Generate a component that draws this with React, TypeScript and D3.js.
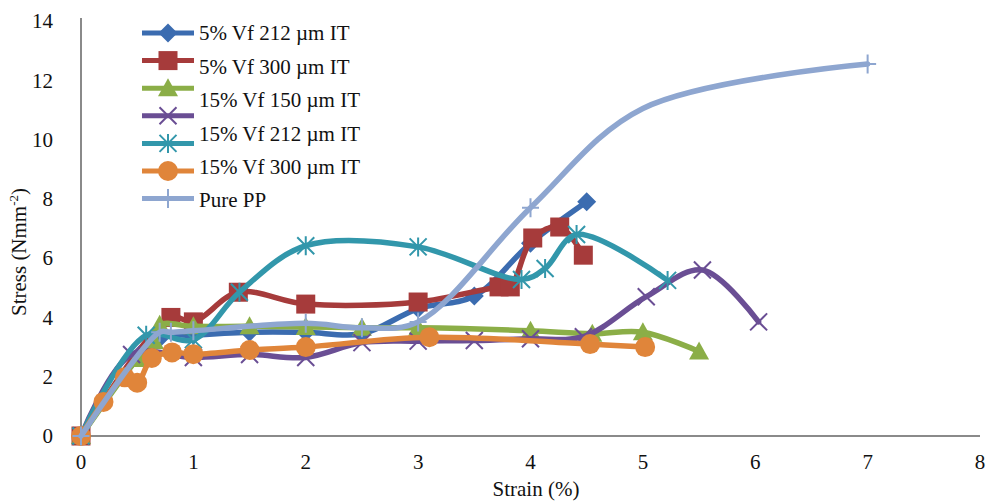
import React from 'react';
import * as d3 from 'd3';

// strain (%) / stress (N/mm2) pairs
const vf5_212 = [[0, 0], [0.7, 3.3], [1, 3.4], [1.5, 3.5], [2, 3.5], [2.5, 3.45], [3, 4.3], [3.5, 4.72], [4, 6.5], [4.5, 7.9]];
const vf5_300 = [[0, 0], [0.8, 4.0], [1, 3.85], [1.4, 4.85], [2, 4.45], [3, 4.52], [3.72, 5.03], [3.82, 5.03], [4.02, 6.68], [4.26, 7.05], [4.47, 6.1]];
const vf15_150 = [[0, 0], [0.5, 2.6], [0.65, 3.2], [0.7, 3.75], [1, 3.7], [1.5, 3.7], [2, 3.68], [2.5, 3.65], [3, 3.65], [4, 3.55], [4.55, 3.45], [5, 3.5], [5.5, 2.85]];
const vf15_150b = [[0, 0], [0.45, 2.75], [1, 2.65], [1.5, 2.75], [2, 2.65], [2.5, 3.15], [3, 3.2], [3.5, 3.22], [4, 3.28], [4.47, 3.35], [5.03, 4.7], [5.53, 5.6], [6.03, 3.85]];
const vf15_212 = [[0, 0], [0.58, 3.4], [1, 3.25], [1.41, 4.85], [2, 6.42], [3, 6.38], [3.92, 5.28], [4.13, 5.65], [4.41, 6.8], [5.22, 5.25]];
const vf15_300 = [[0, 0], [0.2, 1.15], [0.39, 1.98], [0.5, 1.8], [0.63, 2.63], [0.81, 2.82], [1, 2.76], [1.5, 2.9], [2, 3.0], [3.1, 3.33], [4.53, 3.1], [5.02, 3.0]];
const purePP = [[0, 0], [0.7, 3.5], [0.8, 3.5], [1, 3.55], [2, 3.8], [2.5, 3.65], [3, 3.85], [4, 7.7], [5, 11.05], [7, 12.55]];
// strains on the Pure PP curve where no marker is visible
const purePPNoMarker = [5];

const seriesColors = ['#3b6cb0', '#a63b3b', '#8bae47', '#6a4e94', '#3297ab', '#e0853a', '#8ea6d0'];
const seriesMarkers = ['diamond', 'square', 'triangle', 'x', 'asterisk', 'circle', 'plus'];
const seriesData = [vf5_212, vf5_300, vf15_150, vf15_150b, vf15_212, vf15_300, purePP];
const seriesNoMarker = [[], [], [], [], [], [], purePPNoMarker];

const legendLabels = ['5% Vf 212 µm IT', '5% Vf 300 µm IT', '15% Vf 150 µm IT', '15% Vf 212 µm IT', '15% Vf 300 µm IT', 'Pure PP'];

const xTicks = [0, 1, 2, 3, 4, 5, 6, 7, 8];
const yTicks = [0, 2, 4, 6, 8, 10, 12, 14];

const W = 986;
const H = 501;
const margin = { top: 21, right: 6, bottom: 65, left: 81 };
const FONT = '"Liberation Serif", "Times New Roman", serif';

const x = d3.scaleLinear().domain([0, 8]).range([margin.left, W - margin.right]);
const y = d3.scaleLinear().domain([0, 14]).range([H - margin.bottom, margin.top]);

const line = d3.line<number[]>()
  .x((d) => x(d[0]))
  .y((d) => y(d[1]))
  .curve(d3.curveCatmullRom.alpha(0.5));

function Marker({ kind, cx, cy, color }: { kind: string; cx: number; cy: number; color: string }) {
  if (kind === 'diamond') {
    const r = 9.5;
    return <path d={`M${cx},${cy - r}L${cx + r},${cy}L${cx},${cy + r}L${cx - r},${cy}Z`} fill={color} />;
  }
  if (kind === 'square') return <rect x={cx - 9.5} y={cy - 9.5} width={19} height={19} fill={color} />;
  if (kind === 'circle') return <circle cx={cx} cy={cy} r={10} fill={color} />;
  if (kind === 'triangle') {
    return <path d={`M${cx},${cy - 10}L${cx + 10},${cy + 8}L${cx - 10},${cy + 8}Z`} fill={color} />;
  }
  const r = 8.5;
  let d = '';
  if (kind === 'x' || kind === 'asterisk') d += `M${cx - r},${cy - r}L${cx + r},${cy + r}M${cx - r},${cy + r}L${cx + r},${cy - r}`;
  if (kind === 'asterisk' || kind === 'plus') d += `M${cx},${cy - r - 1}L${cx},${cy + r + 1}`;
  if (kind === 'plus') d += `M${cx - r},${cy}L${cx + r},${cy}`;
  return <path d={d} stroke={color} strokeWidth={2} fill="none" />;
}

export default function App() {
  const legendX = 142;
  const legendSym = (i: number) => 33 + i * 27.6;
  const legendTxt = (i: number) => 33 + i * 33.4;

  return (
    <svg width={W} height={H} style={{ position: 'absolute', left: 0, top: 0, background: '#fff' }} fontFamily={FONT}>
      <rect width={W} height={H} fill="#fff" />

      {/* axes */}
      <line x1={x(0)} x2={x(0)} y1={18} y2={y(0)} stroke="#8a8a8a" strokeWidth={2} />
      <line x1={x(0)} x2={x(8)} y1={y(0)} y2={y(0)} stroke="#8a8a8a" strokeWidth={2} />

      {yTicks.map((t) => (
        <text key={t} x={53} y={y(t)} dy="0.35em" textAnchor="end" fontSize={21} fill="#111">{t}</text>
      ))}
      {xTicks.map((t) => (
        <text key={t} x={x(t)} y={462} dy="0.35em" textAnchor="middle" fontSize={21} fill="#111">{t}</text>
      ))}

      <text x={536} y={489} dy="0.35em" textAnchor="middle" fontSize={21} fill="#111">Strain (%)</text>
      <text transform="translate(19,252) rotate(-90)" dy="0.35em" textAnchor="middle" fontSize={21} fill="#111">
        Stress (Nmm<tspan fontSize={13} dy="-8">-2</tspan><tspan dy="8">)</tspan>
      </text>

      {/* series */}
      {seriesData.map((data, i) => (
        <g key={i}>
          <path d={line(data) || ''} fill="none" stroke={seriesColors[i]} strokeWidth={5.5} strokeLinejoin="round" strokeLinecap="round" />
          {data.filter((d) => !seriesNoMarker[i].includes(d[0])).map((d, j) => (
            <Marker key={j} kind={seriesMarkers[i]} cx={x(d[0])} cy={y(d[1])} color={seriesColors[i]} />
          ))}
        </g>
      ))}

      {/* legend */}
      {seriesColors.map((c, i) => (
        <g key={i}>
          <line x1={legendX} x2={legendX + 52} y1={legendSym(i)} y2={legendSym(i)} stroke={c} strokeWidth={5} />
          <Marker kind={seriesMarkers[i]} cx={legendX + 26} cy={legendSym(i)} color={c} />
        </g>
      ))}
      {legendLabels.map((l, i) => (
        <text key={l} x={199} y={legendTxt(i)} dy="0.35em" fontSize={21} fill="#111">{l}</text>
      ))}
    </svg>
  );
}
